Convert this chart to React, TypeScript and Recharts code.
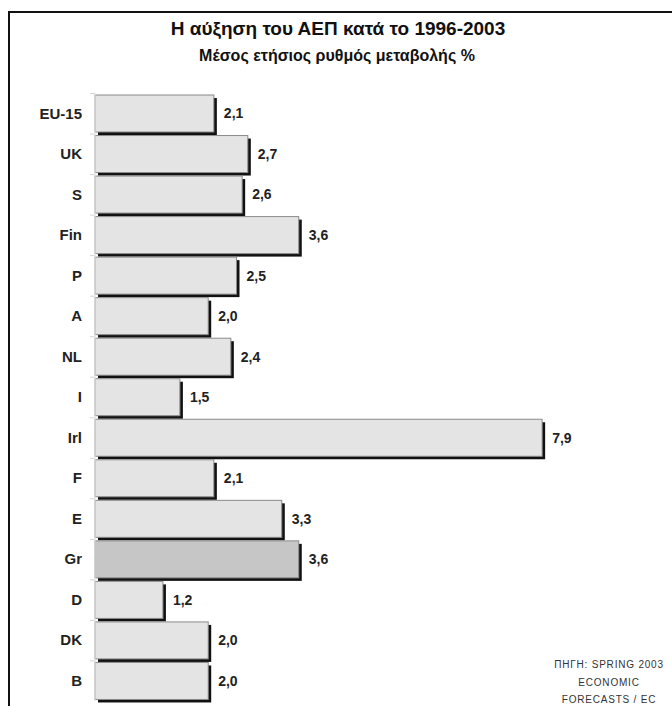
import { BarChart, Bar, XAxis, YAxis, LabelList } from 'recharts'

const countries = ['EU-15', 'UK', 'S', 'Fin', 'P', 'A', 'NL', 'I', 'Irl', 'F', 'E', 'Gr', 'D', 'DK', 'B']
const growth = [2.1, 2.7, 2.6, 3.6, 2.5, 2.0, 2.4, 1.5, 7.9, 2.1, 3.3, 3.6, 1.2, 2.0, 2.0]
const highlight = 'Gr'

const sourceLines = ['ΠΗΓΗ: SPRING 2003', 'ECONOMIC', 'FORECASTS / EC']

const data = countries.map((name, i) => ({ name, value: growth[i] }))

const FONT = '"Liberation Sans", Arial, sans-serif'

// bar with a hard black drop shadow to the right and below
function ShadowBar(props: any) {
  const { x, y, width, height, payload } = props
  const fill = payload.name === highlight ? '#c6c6c6' : '#e4e4e4'
  return (
    <g>
      <line x1={x - 5} x2={x} y1={y - 1.5} y2={y - 1.5} stroke="#d4d4d4" />
      <rect x={x + 3} y={y + 3} width={width} height={height} fill="#111" />
      <rect x={x} y={y} width={width} height={height} fill={fill} stroke="#8a8a8a" strokeWidth={1} />
    </g>
  )
}

function ValueLabel(props: any) {
  const { x, y, width, height, value } = props
  return (
    <text
      x={x + width + 10}
      y={y + height / 2}
      dy="0.35em"
      fontFamily={FONT}
      fontWeight="bold"
      fontSize={14}
      fill="#222"
    >
      {value.toFixed(1).replace('.', ',')}
    </text>
  )
}

function CountryTick(props: any) {
  const { y, payload } = props
  return (
    <text x={82} y={y} dy="0.35em" textAnchor="end" fontFamily={FONT} fontWeight="bold" fontSize={15} fill="#222">
      {payload.value}
    </text>
  )
}

export default function App() {
  return (
    <div style={{ position: 'fixed', left: 0, top: 0, width: 672, height: 706, background: '#fff', overflow: 'hidden' }}>
      <div
        style={{
          position: 'absolute',
          left: 8,
          top: 11,
          width: 720,
          height: 760,
          borderLeft: '2px solid #111',
          borderTop: '2px solid #111',
        }}
      />
      <div
        style={{
          position: 'absolute',
          left: 0,
          top: 18,
          width: 676,
          textAlign: 'center',
          fontFamily: FONT,
          fontWeight: 'bold',
          fontSize: 19,
          color: '#111',
        }}
      >
        Η αύξηση του ΑΕΠ κατά το 1996-2003
      </div>
      <div
        style={{
          position: 'absolute',
          left: 0,
          top: 47,
          width: 674,
          textAlign: 'center',
          fontFamily: FONT,
          fontWeight: 'bold',
          fontSize: 16,
          color: '#111',
        }}
      >
        Μέσος ετήσιος ρυθμός μεταβολής %
      </div>
      <div style={{ position: 'absolute', left: 0, top: 0 }}>
        <BarChart
          width={672}
          height={706}
          data={data}
          layout="vertical"
          barSize={37}
          margin={{ top: 93, right: 11, bottom: 5, left: 0 }}
        >
          <XAxis type="number" domain={[0, 10]} hide />
          <YAxis
            type="category"
            dataKey="name"
            width={95}
            axisLine={{ stroke: '#e2e2e2' }}
            tickLine={false}
            tick={<CountryTick />}
            interval={0}
          />
          <Bar dataKey="value" shape={<ShadowBar />} isAnimationActive={false}>
            <LabelList dataKey="value" content={<ValueLabel />} />
          </Bar>
        </BarChart>
      </div>
      <div
        style={{
          position: 'absolute',
          left: 547,
          top: 656,
          width: 124,
          textAlign: 'center',
          fontFamily: FONT,
          fontSize: 10,
          letterSpacing: 0.8,
          lineHeight: '17.5px',
          color: '#333',
          whiteSpace: 'nowrap',
        }}
      >
        {sourceLines.map((l) => (
          <div key={l}>{l}</div>
        ))}
      </div>
    </div>
  )
}
